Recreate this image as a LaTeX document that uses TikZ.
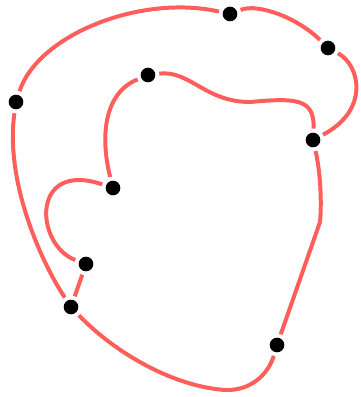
\documentclass[tikz,border=0pt]{standalone}
\definecolor{loopred}{HTML}{FF5E5B}

\begin{document}
\begin{tikzpicture}[x=0.03cm, y=-0.03cm,
    vertex/.style={circle, fill=black, minimum size=0.44cm, inner sep=0pt, outer sep=0.12cm},
    wire/.style={draw=loopred, line width=3.4pt}]
    \useasboundingbox (0,0) rectangle (360,397);
    % dots
    \node[vertex] (top)    at (230,14)  {};
    \node[vertex] (topr)   at (328,48)  {};
    \node[vertex] (joint)  at (313,140) {};
    \node[vertex] (inner)  at (148,75)  {};
    \node[vertex] (mid)    at (113,188) {};
    \node[vertex] (low)    at (86,264)  {};
    \node[vertex] (fork)   at (71,307)  {};
    \node[vertex] (bottom) at (277,345) {};
    \node[vertex] (left)   at (16,102)  {};
    \coordinate (bend)  at (320,222);
    \coordinate (floor) at (225,390);
    \coordinate (dip)   at (250,102);
    % outer ring
    \draw[wire] (left) .. controls (38,35) and (140,-6) .. (top);
    \draw[wire] (top) .. controls (258,3) and (298,18) .. (topr);
    \draw[wire] (topr) .. controls (360,65) and (370,110) .. (joint);
    \draw[wire] (joint) .. controls (320,170) and (322,200) .. (bend) -- (bottom);
    \draw[wire] (bottom) .. controls (268,375) and (250,391) .. (floor)
                         .. controls (170,386) and (112,350) .. (fork);
    \draw[wire] (fork) .. controls (40,260) and (5,180) .. (left);
    % inner branch
    \draw[wire] (fork) -- (low);
    \draw[wire] (low) .. controls (35,245) and (30,160) .. (mid);
    \draw[wire] (mid) .. controls (102,145) and (100,95) .. (inner);
    \draw[wire] (inner) .. controls (190,70) and (205,102) .. (dip)
                        .. controls (295,98) and (315,98) .. (joint);
\end{tikzpicture}
\end{document}
